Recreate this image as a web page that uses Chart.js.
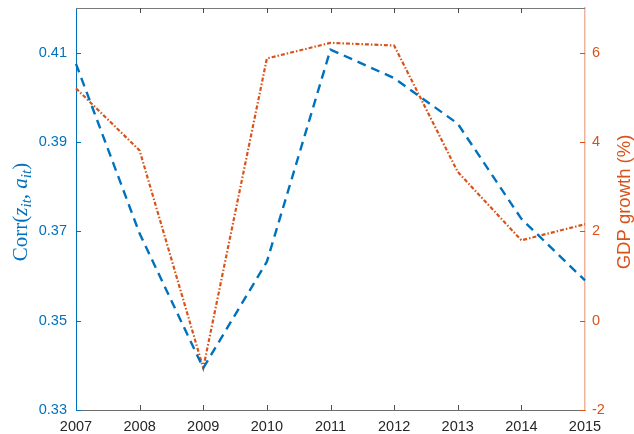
<!DOCTYPE html>
<html>
<head>
<meta charset="utf-8">
<script src="https://cdn.jsdelivr.net/npm/chart.js@4.4.0/dist/chart.umd.min.js"></script>
<style>
  html, body { margin: 0; padding: 0; background: #fff; }
  #wrap { width: 634px; height: 434px; position: relative; }
</style>
</head>
<body>
<div id="wrap"><canvas id="corrChart"></canvas></div>
<script>
// data
var years = ['2007', '2008', '2009', '2010', '2011', '2012', '2013', '2014', '2015'];
var corrValues = [0.4075, 0.3695, 0.3394, 0.3632, 0.4107, 0.4043, 0.3941, 0.3728, 0.3590];
var gdpGrowth = [5.20, 3.81, -1.06, 5.87, 6.22, 6.16, 3.33, 1.80, 2.16];
var corrTicks = [0.33, 0.35, 0.37, 0.39, 0.41];
var gdpTicks = [-2, 0, 2, 4, 6];

var blue = '#0072BD';
var orange = '#D95319';

// MATLAB style: ticks point inwards, box on top, rotated titles
var axisDecor = {
    id: 'axisDecor',
    afterDraw: function (chart) {
        var ctx = chart.ctx;
        var area = chart.chartArea;
        var x = chart.scales.x, yl = chart.scales.yLeft, yr = chart.scales.yRight;
        var len = 5;
        ctx.save();
        // top box line
        ctx.strokeStyle = '#7a7a7a';
        ctx.lineWidth = 1;
        ctx.beginPath();
        ctx.moveTo(area.left, area.top + 0.5);
        ctx.lineTo(area.right, area.top + 0.5);
        ctx.stroke();
        // x ticks, bottom and top
        ctx.strokeStyle = '#4d4d4d';
        x.ticks.forEach(function (t, i) {
            var px = Math.round(x.getPixelForTick(i)) + 0.5;
            if (i === 0 || i === x.ticks.length - 1) return;
            ctx.beginPath();
            ctx.moveTo(px, area.bottom);
            ctx.lineTo(px, area.bottom - len);
            ctx.moveTo(px, area.top);
            ctx.lineTo(px, area.top + len);
            ctx.stroke();
        });
        // left ticks
        ctx.strokeStyle = blue;
        yl.ticks.forEach(function (t) {
            var py = Math.round(yl.getPixelForValue(t.value)) + 0.5;
            ctx.beginPath();
            ctx.moveTo(area.left, py);
            ctx.lineTo(area.left + len, py);
            ctx.stroke();
        });
        // right ticks
        ctx.strokeStyle = orange;
        yr.ticks.forEach(function (t) {
            var py = Math.round(yr.getPixelForValue(t.value)) + 0.5;
            ctx.beginPath();
            ctx.moveTo(area.right, py);
            ctx.lineTo(area.right - len, py);
            ctx.stroke();
        });

        // left title: Corr(z_it, a_it)
        var big = 21, small = 15;
        var parts = [
            { t: 'Corr(', f: big + 'px "Liberation Serif"', dy: 0 },
            { t: 'z', f: 'italic ' + big + 'px "Liberation Serif"', dy: 0 },
            { t: 'it', f: 'italic ' + small + 'px "Liberation Serif"', dy: 4 },
            { t: ', ', f: big + 'px "Liberation Serif"', dy: 0 },
            { t: 'a', f: 'italic ' + big + 'px "Liberation Serif"', dy: 0 },
            { t: 'it', f: 'italic ' + small + 'px "Liberation Serif"', dy: 4 },
            { t: ')', f: big + 'px "Liberation Serif"', dy: 0 }
        ];
        var total = 0;
        parts.forEach(function (p) { ctx.font = p.f; p.w = ctx.measureText(p.t).width; total += p.w; });
        ctx.translate(27, 212);
        ctx.rotate(-Math.PI / 2);
        ctx.fillStyle = blue;
        ctx.textBaseline = 'alphabetic';
        ctx.textAlign = 'left';
        var cx = -total / 2;
        parts.forEach(function (p) {
            ctx.font = p.f;
            ctx.fillText(p.t, cx, p.dy);
            cx += p.w;
        });
        ctx.restore();

        // right title
        ctx.save();
        ctx.translate(625, 202);
        ctx.rotate(-Math.PI / 2);
        ctx.fillStyle = orange;
        ctx.font = '18.5px "Liberation Sans"';
        ctx.textAlign = 'center';
        ctx.textBaseline = 'middle';
        ctx.fillText('GDP growth (%)', 0, 0);
        ctx.restore();
    }
};

function noPad(scale) {
    scale.paddingTop = 0;
    scale.paddingBottom = 0;
}

function generateChart() {
    const ctx1 = document.getElementById('corrChart');
    new Chart(ctx1, {
        type: 'line',
        data: {
            labels: years,
            datasets: [{
                label: 'Corr',
                data: corrValues,
                yAxisID: 'yLeft',
                borderColor: blue,
                borderWidth: 2.4,
                borderDash: [9, 6],
                pointRadius: 0,
                tension: 0,
                fill: false
            }, {
                label: 'GDP growth',
                data: gdpGrowth,
                yAxisID: 'yRight',
                borderColor: orange,
                borderWidth: 2.2,
                borderDash: [4, 2, 1.5, 2],
                pointRadius: 0,
                tension: 0,
                fill: false
            }]
        },
        options: {
            responsive: true,
            maintainAspectRatio: false,
            animation: false,
            layout: { padding: { top: 8, left: 0, right: 0, bottom: 0 } },
            plugins: {
                legend: { display: false },
                tooltip: { enabled: false },
                title: { display: false }
            },
            scales: {
                x: {
                    type: 'category',
                    offset: false,
                    grid: { display: false, drawTicks: false },
                    border: { display: true, color: '#6e6e6e', width: 1 },
                    ticks: {
                        color: '#262626',
                        font: { family: 'Liberation Sans', size: 14.5 },
                        maxRotation: 0,
                        autoSkip: false,
                        padding: 8
                    },
                    afterFit: function (scale) { scale.height = 24; }
                },
                yLeft: {
                    type: 'linear',
                    position: 'left',
                    min: 0.33,
                    max: 0.42,
                    grid: { display: false, drawTicks: false },
                    border: { display: true, color: blue, width: 1 },
                    ticks: {
                        color: blue,
                        font: { family: 'Liberation Sans', size: 14.5 },
                        padding: 9,
                        callback: function (v) { return Number(v).toFixed(2); }
                    },
                    afterBuildTicks: function (axis) {
                        axis.ticks = corrTicks.map(function (v) { return { value: v }; });
                    },
                    afterFit: function (scale) { scale.width = 76; noPad(scale); }
                },
                yRight: {
                    type: 'linear',
                    position: 'right',
                    min: -2,
                    max: 7,
                    grid: { display: false, drawTicks: false },
                    border: { display: true, color: '#EFB29A', width: 1.5 },
                    ticks: {
                        color: orange,
                        font: { family: 'Liberation Sans', size: 14.5 },
                        padding: 7
                    },
                    afterBuildTicks: function (axis) {
                        axis.ticks = gdpTicks.map(function (v) { return { value: v }; });
                    },
                    afterFit: function (scale) { scale.width = 49; noPad(scale); }
                }
            }
        },
        plugins: [axisDecor]
    });
}
generateChart();
</script>
</body>
</html>
